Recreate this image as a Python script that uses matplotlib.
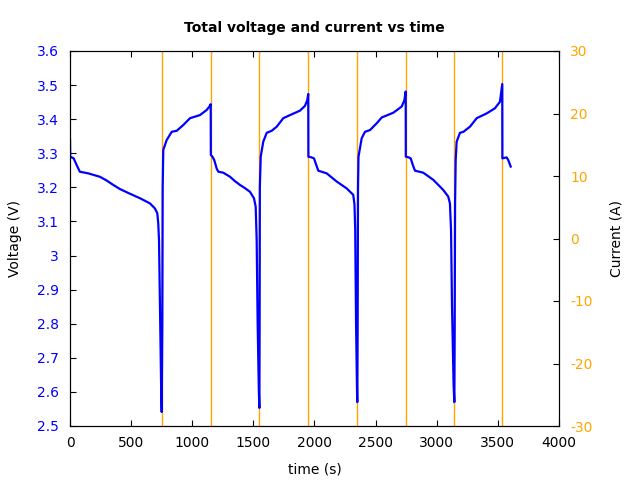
import matplotlib
matplotlib.use("Agg")
import matplotlib.pyplot as plt
from matplotlib.ticker import FormatStrFormatter, MultipleLocator

# Voltage trace (time in s, voltage in V)
time_s = [
    0, 2, 30, 55, 80, 150, 245, 300, 350, 409, 480, 573, 654, 695, 714, 722, 728, 738, 746, 750,
    755, 758, 763, 791, 832, 873, 927, 982, 1063, 1118, 1140, 1151,
    1152, 1165, 1180, 1200, 1213, 1254, 1309, 1350, 1391, 1430, 1472, 1505, 1519, 1527, 1535, 1545, 1549,
    1551, 1553, 1560, 1581, 1609, 1650, 1691, 1745, 1800, 1881, 1922, 1940, 1949,
    1950, 1975, 1996, 2015, 2031, 2100, 2182, 2263, 2317, 2327, 2333, 2340, 2348, 2350,
    2353, 2356, 2360, 2386, 2413, 2454, 2509, 2550, 2645, 2713, 2735, 2746,
    2747, 2770, 2787, 2805, 2822, 2890, 2972, 3027, 3054, 3094, 3108, 3117, 3125, 3138, 3144,
    3147, 3150, 3155, 3163, 3190, 3218, 3272, 3327, 3409, 3476, 3517, 3536,
    3537, 3572, 3585, 3605,
]
voltage_v = [
    3.34, 3.29, 3.285, 3.265, 3.246, 3.241, 3.231, 3.22, 3.208, 3.195, 3.183, 3.168, 3.153, 3.138, 3.124, 3.094, 3.045, 2.8, 2.6, 2.541,
    2.8, 3.2, 3.31, 3.339, 3.363, 3.366, 3.383, 3.403, 3.412, 3.427, 3.437, 3.444,
    3.295, 3.29, 3.28, 3.255, 3.246, 3.243, 3.231, 3.218, 3.207, 3.198, 3.187, 3.168, 3.143, 3.045, 2.8, 2.6, 2.553,
    2.8, 3.2, 3.29, 3.334, 3.36, 3.366, 3.378, 3.403, 3.412, 3.425, 3.439, 3.455, 3.474,
    3.29, 3.288, 3.285, 3.265, 3.249, 3.241, 3.217, 3.197, 3.178, 3.15, 3.08, 2.8, 2.6, 2.57,
    2.8, 3.2, 3.29, 3.344, 3.363, 3.368, 3.388, 3.405, 3.419, 3.437, 3.455, 3.481,
    3.29, 3.288, 3.285, 3.265, 3.249, 3.243, 3.222, 3.202, 3.192, 3.173, 3.153, 3.075, 2.85, 2.62, 2.57,
    2.8, 3.15, 3.28, 3.334, 3.36, 3.363, 3.378, 3.403, 3.417, 3.432, 3.451, 3.503,
    3.285, 3.288, 3.28, 3.261,
]

# Current steps (A): jumps between values beyond the +/-30 axis range
switch_s = [0, 750, 1151, 1549, 1949, 2350, 2746, 3144, 3536, 3605]
current_a = [-40, 40, -40, 40, -40, 40, -40, 40, -40, -40]

plt.rcParams["axes.unicode_minus"] = False

fig = plt.figure(figsize=(6.4, 4.8), dpi=100)
ax = fig.add_axes([0.1094, 0.1125, 0.764, 0.78125])
ax2 = ax.twinx()

ax2.step(switch_s, current_a, where="post", color="orange", lw=1)
ax.plot(time_s, voltage_v, color="blue", lw=1.6)

# keep the voltage trace on top of the current lines
ax.set_zorder(ax2.get_zorder() + 1)
ax.patch.set_visible(False)

ax.set_xlim(0, 4000)
ax.set_ylim(2.5, 3.6)
ax2.set_ylim(-30, 30)

ax.xaxis.set_major_locator(MultipleLocator(500))
ax.yaxis.set_major_locator(MultipleLocator(0.1))
ax.yaxis.set_major_formatter(FormatStrFormatter("%g"))
ax2.yaxis.set_major_locator(MultipleLocator(10))

ax.tick_params(axis="x", direction="in", length=4, top=True, pad=7, labelsize=10)
ax.tick_params(axis="y", direction="in", length=4, right=False, pad=8,
               labelsize=10, labelcolor="blue")
ax2.tick_params(axis="y", direction="in", length=4, pad=8, labelsize=10,
                labelcolor="orange")

ax.set_xlabel("time (s)", fontsize=10, labelpad=9.5)
ax.set_ylabel("Voltage (V)", fontsize=10, labelpad=10.5)
ax2.set_ylabel("Current (A)", fontsize=10, labelpad=12)
ax.set_title("Total voltage and current vs time", fontsize=10,
             fontweight="bold", pad=14)

fig.savefig("out.png", dpi=100)
